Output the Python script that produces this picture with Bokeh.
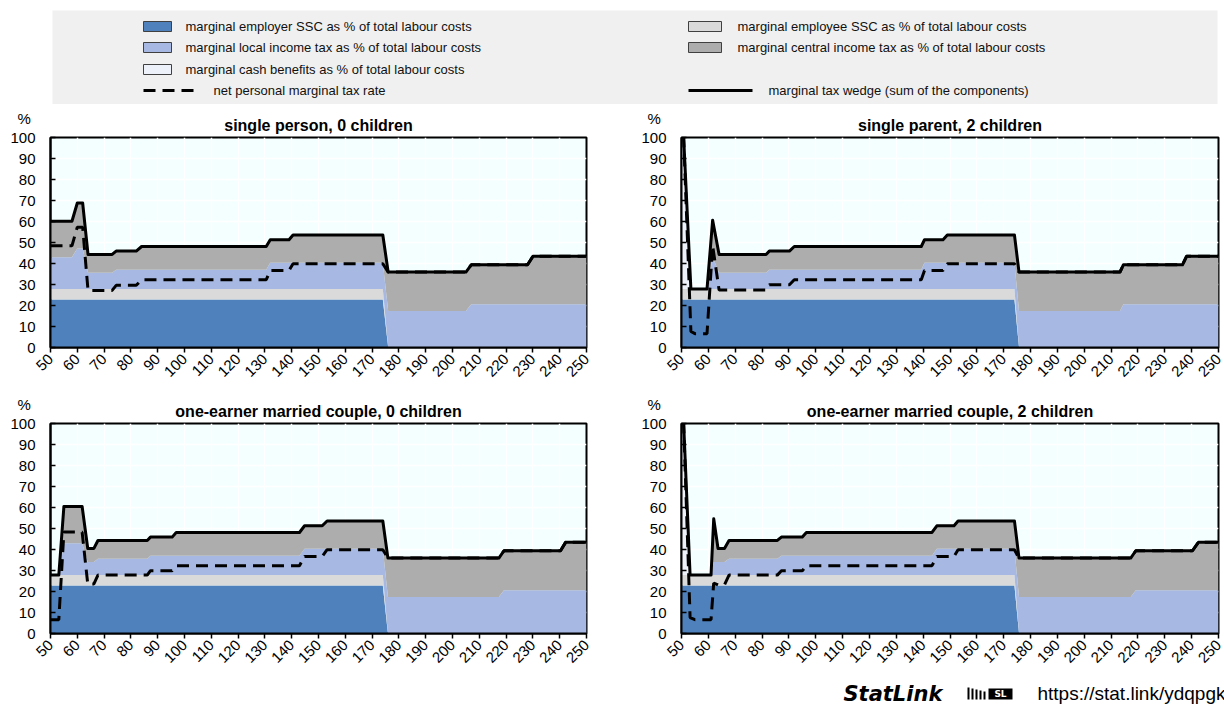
import math
from bokeh.plotting import figure
from bokeh.layouts import column, row
from bokeh.models import ColumnDataSource, Range1d, FixedTicker, Title
from bokeh.transform import stack
from bokeh.core.properties import value
from bokeh.embed import file_html
from bokeh.resources import INLINE

FONT = "Liberation Sans"

# ---------------- data ----------------
x_ticks = [50, 60, 70, 80, 90, 100, 110, 120, 130, 140, 150, 160, 170, 180, 190, 200, 210, 220, 230, 240, 250]
y_ticks = [0, 10, 20, 30, 40, 50, 60, 70, 80, 90, 100]

titles = ["single person, 0 children", "single parent, 2 children",
          "one-earner married couple, 0 children", "one-earner married couple, 2 children"]

legend_labels = ["marginal employer SSC as % of total labour costs",
                 "marginal employee SSC as % of total labour costs",
                 "marginal local income tax as % of total labour costs",
                 "marginal central income tax as % of total labour costs",
                 "marginal cash benefits as % of total labour costs",
                 "net personal marginal tax rate",
                 "marginal tax wedge (sum of the components)"]

# single person, 0 children
x1 = [50, 58, 60, 62, 64, 73, 74.5, 82, 84, 130.5, 132, 139, 140.5, 174, 176, 205, 207, 228, 230, 250]
employer1 = [22.9, 22.9, 22.9, 22.9, 22.9, 22.9, 22.9, 22.9, 22.9, 22.9, 22.9, 22.9, 22.9, 22.9, 0, 0, 0, 0, 0, 0]
employee1 = [4.9, 4.9, 4.9, 4.9, 4.9, 4.9, 4.9, 4.9, 4.9, 4.9, 4.9, 4.9, 4.9, 4.9, 0, 0, 0, 0, 0, 0]
local1 = [15.2, 15.2, 19.4, 19.4, 7.8, 7.8, 9.2, 9.2, 9.2, 9.2, 12.5, 12.5, 12.5, 12.5, 17.4, 17.4, 20.6, 20.6, 20.6, 20.6]
central1 = [17.1, 17.1, 21.6, 21.6, 8.7, 8.7, 8.9, 8.9, 11.1, 11.1, 11.0, 11.0, 13.3, 13.3, 18.5, 18.5, 18.8, 18.8, 22.8, 22.8]
benefits1 = [0, 0, 0, 0, 0, 0, 0, 0, 0, 0, 0, 0, 0, 0, 0, 0, 0, 0, 0, 0]
net1 = [48.4, 48.4, 57.3, 57.3, 27.2, 27.2, 29.6, 29.6, 32.3, 32.3, 36.7, 36.7, 39.9, 39.9, 35.9, 35.9, 39.4, 39.4, 43.4, 43.4]

# single parent, 2 children
x2 = [50, 50.8, 53.5, 55, 59.5, 61.6, 64, 81.5, 82.7, 90.2, 92, 139.3, 140.5, 147.4, 149, 174, 175.7, 213.3, 214.6, 236.6, 238.1, 250]
employer2 = [22.9, 22.9, 22.9, 22.9, 22.9, 22.9, 22.9, 22.9, 22.9, 22.9, 22.9, 22.9, 22.9, 22.9, 22.9, 22.9, 0, 0, 0, 0, 0, 0]
employee2 = [4.9, 4.9, 4.9, 4.9, 4.9, 4.9, 4.9, 4.9, 4.9, 4.9, 4.9, 4.9, 4.9, 4.9, 4.9, 4.9, 0, 0, 0, 0, 0, 0]
local2 = [0, 0, 0, 0, 0, 15.2, 7.8, 7.8, 9.2, 9.2, 9.2, 9.2, 12.5, 12.5, 12.5, 12.5, 17.4, 17.4, 20.6, 20.6, 20.6, 20.6]
central2 = [0, 0, 0, 0, 0, 17.6, 8.7, 8.7, 8.9, 8.9, 11.1, 11.1, 11.0, 11.0, 13.3, 13.3, 18.5, 18.5, 18.8, 18.8, 22.8, 22.8]
benefits2 = [72.2, 72.2, 0, 0, 0, 0, 0, 0, 0, 0, 0, 0, 0, 0, 0, 0, 0, 0, 0, 0, 0, 0]
net2 = [100, 100, 7.6, 6.6, 6.6, 48.5, 27.4, 27.4, 29.9, 29.9, 32.3, 32.3, 36.7, 36.7, 39.9, 39.9, 35.9, 35.9, 39.4, 39.4, 43.4, 43.4]

# one-earner married couple, 0 children
x3 = [50, 53.1, 55, 61.8, 63.9, 66.2, 67.7, 86.1, 87.3, 95.4, 96.9, 142.9, 144.8, 151.4, 153.2, 174, 175.9, 217.3, 219.2, 240.3, 242.2, 250]
employer3 = [22.9, 22.9, 22.9, 22.9, 22.9, 22.9, 22.9, 22.9, 22.9, 22.9, 22.9, 22.9, 22.9, 22.9, 22.9, 22.9, 0, 0, 0, 0, 0, 0]
employee3 = [4.9, 4.9, 4.9, 4.9, 4.9, 4.9, 4.9, 4.9, 4.9, 4.9, 4.9, 4.9, 4.9, 4.9, 4.9, 4.9, 0, 0, 0, 0, 0, 0]
local3 = [0, 0, 15.2, 15.2, 6.2, 6.2, 7.8, 7.8, 9.2, 9.2, 9.2, 9.2, 12.5, 12.5, 12.5, 12.5, 17.4, 17.4, 20.6, 20.6, 20.6, 20.6]
central3 = [0, 0, 17.5, 17.5, 6.5, 6.5, 8.7, 8.7, 8.9, 8.9, 11.1, 11.1, 11.0, 11.0, 13.3, 13.3, 18.5, 18.5, 18.8, 18.8, 22.8, 22.8]
benefits3 = [0, 0, 0, 0, 0, 0, 0, 0, 0, 0, 0, 0, 0, 0, 0, 0, 0, 0, 0, 0, 0, 0]
net3 = [6.6, 6.6, 48.3, 48.3, 23.6, 23.6, 27.8, 27.8, 29.9, 29.9, 32.3, 32.3, 36.7, 36.7, 39.9, 39.9, 35.9, 35.9, 39.4, 39.4, 43.4, 43.4]

# one-earner married couple, 2 children
x4 = [50, 50.8, 53.2, 55, 61, 62, 63.6, 66, 67.7, 85.7, 87.2, 95, 96.5, 143.3, 145.1, 151.5, 153, 174, 175.7, 217.3, 219.2, 240.3, 242.5, 250]
employer4 = [22.9, 22.9, 22.9, 22.9, 22.9, 22.9, 22.9, 22.9, 22.9, 22.9, 22.9, 22.9, 22.9, 22.9, 22.9, 22.9, 22.9, 22.9, 0, 0, 0, 0, 0, 0]
employee4 = [4.9, 4.9, 4.9, 4.9, 4.9, 4.9, 4.9, 4.9, 4.9, 4.9, 4.9, 4.9, 4.9, 4.9, 4.9, 4.9, 4.9, 4.9, 0, 0, 0, 0, 0, 0]
local4 = [0, 0, 0, 0, 0, 6.2, 6.2, 6.2, 7.8, 7.8, 9.2, 9.2, 9.2, 9.2, 12.5, 12.5, 12.5, 12.5, 17.4, 17.4, 20.6, 20.6, 20.6, 20.6]
central4 = [0, 0, 0, 0, 0, 20.6, 6.5, 6.5, 8.7, 8.7, 8.9, 8.9, 11.1, 11.1, 11.0, 11.0, 13.3, 13.3, 18.5, 18.5, 18.8, 18.8, 22.8, 22.8]
benefits4 = [72.2, 72.2, 0, 0, 0, 0, 0, 0, 0, 0, 0, 0, 0, 0, 0, 0, 0, 0, 0, 0, 0, 0, 0, 0]
net4 = [100, 100, 7.6, 6.6, 6.6, 24.0, 23.1, 23.1, 27.8, 27.8, 29.9, 29.9, 32.3, 32.3, 36.7, 36.7, 39.9, 39.9, 35.9, 35.9, 39.4, 39.4, 43.4, 43.4]

# ---------------- styles ----------------
C_EMPLOYER = "#4F81BD"
C_EMPLOYEE = "#DADADA"
C_LOCAL = "#A7B9E3"
C_CENTRAL = "#ADADAD"
C_BENEFIT = "#EDF1F9"
STACK_COLORS = [C_EMPLOYER, C_EMPLOYEE, C_LOCAL, C_CENTRAL, C_BENEFIT]
STACKERS = ["emp", "ee", "loc", "cen", "ben"]


def panel(title, x, emp, ee, loc, cen, ben, net, width, height, bl, br, bt, bb, toff):
    src = ColumnDataSource(dict(x=x, emp=emp, ee=ee, loc=loc, cen=cen, ben=ben, net=net))
    p = figure(width=width, height=height, x_range=Range1d(50, 250), y_range=Range1d(0, 100),
               output_backend="svg", toolbar_location=None,
               min_border_left=bl, min_border_right=br, min_border_top=bt, min_border_bottom=bb,
               background_fill_color="#F4FFFF", border_fill_color="white")
    p.varea_stack(stackers=STACKERS, x="x", color=STACK_COLORS, source=src)
    p.line(x="x", y=stack(*STACKERS), source=src, line_color="black", line_width=3,
           line_join="round")
    p.line(x="x", y="net", source=src, line_color="black", line_width=3, line_dash="12 7")

    # "%" unit marker (outer title) and panel title (inner)
    p.title.text = "%"
    p.title.align = "left"
    p.title.offset = -(bl - 17)
    p.title.text_font = FONT
    p.title.text_font_size = "15px"
    p.title.text_font_style = "normal"
    p.title.text_color = "black"
    p.title.standoff = -30
    t = Title(text=title, align="center", offset=toff, text_font=FONT, text_font_size="16px",
              text_font_style="bold", text_color="black", standoff=7)
    p.add_layout(t, "above")

    p.xaxis.ticker = FixedTicker(ticks=x_ticks)
    p.yaxis.ticker = FixedTicker(ticks=y_ticks)
    p.xaxis.major_label_orientation = math.pi / 4
    for ax in (p.xaxis, p.yaxis):
        ax.axis_line_color = "black"
        ax.axis_line_width = 2
        ax.major_tick_line_color = "black"
        ax.major_tick_line_width = 1.5
        ax.minor_tick_line_color = None
        ax.major_label_text_font = FONT
        ax.major_label_text_font_size = "15px"
        ax.major_label_text_color = "black"
    p.xaxis.major_tick_in = 0
    p.xaxis.major_tick_out = 5
    p.yaxis.major_tick_in = 5
    p.yaxis.major_tick_out = 0
    p.yaxis.major_label_standoff = 15
    p.xaxis.major_label_standoff = 4

    p.xgrid.grid_line_color = "white"
    p.ygrid.grid_line_color = "white"
    p.xgrid.grid_line_width = 1.5
    p.ygrid.grid_line_width = 1.5
    p.outline_line_color = "black"
    p.outline_line_width = 2
    return p


p1 = panel(titles[0], x1, employer1, employee1, local1, central1, benefits1, net1, 630, 286, 50, 44, 33, 43, -10)
p2 = panel(titles[1], x2, employer2, employee2, local2, central2, benefits2, net2, 594, 286, 51, 6, 33, 43, -10)
p3 = panel(titles[2], x3, employer3, employee3, local3, central3, benefits3, net3, 630, 280, 50, 44, 33, 37, -13)
p4 = panel(titles[3], x4, employer4, employee4, local4, central4, benefits4, net4, 594, 280, 51, 6, 33, 37, -13)

# ---------------- legend ----------------
lg = figure(width=1224, height=104, x_range=Range1d(0, 1224), y_range=Range1d(104, 0),
            output_backend="svg", toolbar_location=None, min_border=0,
            x_axis_location=None, y_axis_location=None, outline_line_color=None)
lg.grid.visible = False
lg.quad(left=[52], right=[1217], top=[10], bottom=[104], fill_color="#F0F0F0", line_color=None)

sw_left = [143, 688, 143, 688, 143]
sw_right = [171, 721, 171, 721, 171]
sw_y = [26, 26, 47, 47, 69]
sw_colors = [C_EMPLOYER, C_EMPLOYEE, C_LOCAL, C_CENTRAL, C_BENEFIT]
lg.quad(left=sw_left, right=sw_right, top=[y - 5 for y in sw_y], bottom=[y + 5 for y in sw_y],
        fill_color=sw_colors, line_color="#404040", line_width=1)
lg.text(x=[185, 737, 185, 737, 185], y=sw_y, text=legend_labels[:5],
        text_font=value(FONT), text_font_size="13px", text_color="#111111",
        text_baseline="middle", text_align="left")
lg.line(x=[143, 199], y=[90, 90], line_color="black", line_width=3, line_dash="12 7")
lg.line(x=[688, 752], y=[90, 90], line_color="black", line_width=3)
lg.text(x=[213, 768], y=[90, 90], text=legend_labels[5:],
        text_font=value(FONT), text_font_size="13px", text_color="#111111",
        text_baseline="middle", text_align="left")

# ---------------- footer ----------------
ft = figure(width=1224, height=38, x_range=Range1d(0, 1224), y_range=Range1d(38, 0),
            output_backend="svg", toolbar_location=None, min_border=0,
            x_axis_location=None, y_axis_location=None, outline_line_color=None)
ft.grid.visible = False
ft.text(x=[843], y=[23], text=["StatLink"], text_font=value("DejaVu Sans"), text_font_size="21px",
        text_font_style="bold italic", text_color="black", text_baseline="middle")
ft.quad(left=[967, 971, 975, 979, 983], right=[969, 973, 977, 981, 985],
        top=[17, 18, 19, 20, 21], bottom=[29, 29, 29, 29, 29], fill_color="black", line_color=None)
ft.quad(left=[988], right=[1012], top=[18], bottom=[29], fill_color="black", line_color=None)
ft.text(x=[1000], y=[23.5], text=["SL"], text_font=value("DejaVu Sans"), text_font_size="9px",
        text_font_style="bold", text_color="white", text_baseline="middle", text_align="center")
ft.text(x=[1037], y=[23], text=["https://stat.link/ydqpgk"], text_font=value(FONT),
        text_font_size="19px", text_color="black", text_baseline="middle")

layout = column(lg, row(p1, p2), row(p3, p4), ft)
open("out.html", "w").write(file_html(layout, INLINE))
